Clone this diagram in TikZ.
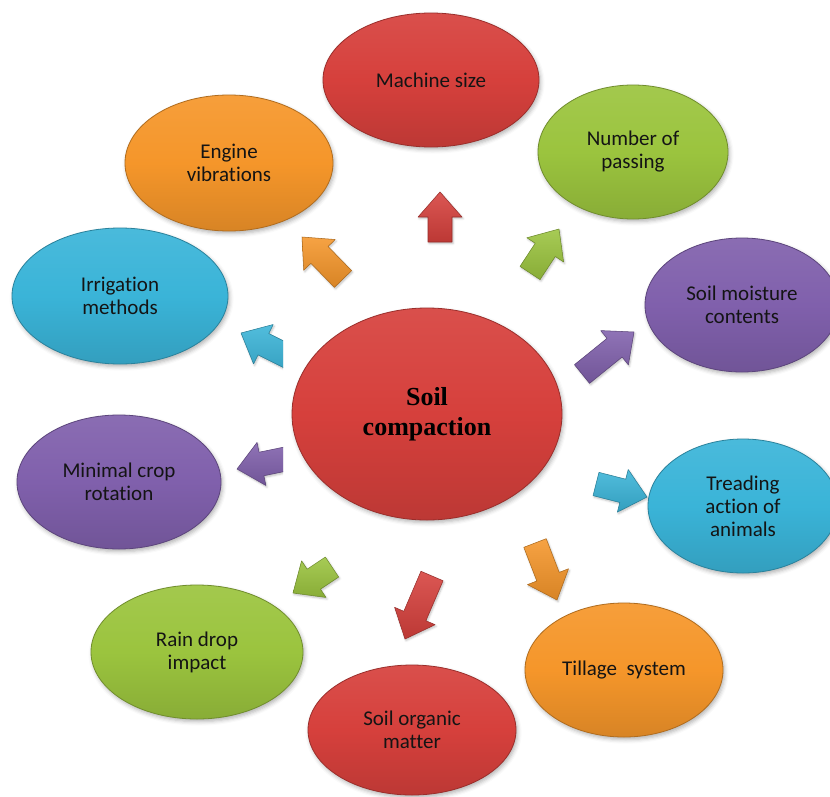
\documentclass[tikz,border=0pt]{standalone}
\usepackage{fontspec}
\newfontfamily\calib[Ligatures={NoCommon}]{Carlito}
\newfontfamily\tms{Liberation Serif}
\usetikzlibrary{shapes.geometric,calc,shadows.blur}
\definecolor{cred}{RGB}{214,64,60}
\definecolor{corange}{RGB}{245,150,42}
\definecolor{cgreen}{RGB}{155,196,62}
\definecolor{cpurple}{RGB}{128,96,172}
\definecolor{ccyan}{RGB}{58,180,216}
\tikzset{
  bubble/.style={ellipse, inner sep=0pt, align=center,
    font=\calib\fontsize{15.75pt}{17.25pt}\selectfont, text=black!92,
    draw=#1!72!black, line width=0.6pt,
    top color=#1!92!white, bottom color=#1!88!black, middle color=#1,
    blur shadow={shadow xshift=1.2pt, shadow yshift=-2pt, shadow blur radius=3pt, shadow opacity=30}},
  arrowfill/.style={draw=#1!70!black, line width=0.4pt, line join=round,
    top color=#1!88!white, bottom color=#1!88!black,
    blur shadow={shadow xshift=0.8pt, shadow yshift=-1.2pt, shadow blur radius=1.5pt, shadow opacity=25}},
}
\newcommand\blkarrow[3]{%
  \coordinate (ah) at ($(#2)!18.75pt!(#1)$);
  \path[arrowfill=#3] ($(#1)!9pt!90:(#2)$) -- ($(ah)!9pt!90:(#2)$) -- ($(ah)!16.5pt!90:(#2)$) -- (#2)
    -- ($(ah)!16.5pt!-90:(#2)$) -- ($(ah)!9pt!-90:(#2)$) -- ($(#1)!9pt!-90:(#2)$) -- cycle;
}
\begin{document}
\begin{tikzpicture}[x=0.75pt,y=-0.75pt]
\useasboundingbox (0,0) rectangle (830,796);
% arrow end points
\coordinate (a1t) at (440,242); \coordinate (a1h) at (440,192);
\coordinate (a2t) at (530,273); \coordinate (a2h) at (559,229);
\coordinate (a3t) at (582,374); \coordinate (a3h) at (634,332);
\coordinate (a4t) at (596,484); \coordinate (a4h) at (647,497);
\coordinate (a5t) at (535,543); \coordinate (a5h) at (557,600);
\coordinate (a6t) at (432,576); \coordinate (a6h) at (405,639);
\coordinate (a7t) at (332,567); \coordinate (a7h) at (293,593);
\coordinate (a8t) at (305,455); \coordinate (a8h) at (237,469);
\coordinate (a9t) at (305,365); \coordinate (a9h) at (241,333);
\coordinate (a10t) at (343,279); \coordinate (a10h) at (302,237);
% arrows
\blkarrow{a1t}{a1h}{cred}
\blkarrow{a2t}{a2h}{cgreen}
\blkarrow{a3t}{a3h}{cpurple}
\blkarrow{a4t}{a4h}{ccyan}
\blkarrow{a5t}{a5h}{corange}
\blkarrow{a6t}{a6h}{cred}
\blkarrow{a7t}{a7h}{cgreen}
\begin{scope}
\clip (0,0) rectangle (283,796);
\blkarrow{a8t}{a8h}{cpurple}
\blkarrow{a9t}{a9h}{ccyan}
\end{scope}
\blkarrow{a10t}{a10h}{corange}
% ellipses
\node[bubble=cred, minimum width=202.5pt, minimum height=159pt,
  font=\tms\bfseries\fontsize{19.5pt}{22.5pt}\selectfont, text=black] (center) at (427,414) {Soil\\compaction};
\node[bubble=cred, minimum width=162pt, minimum height=100.5pt] (machine) at (431,80) {Machine size};
\node[bubble=corange, minimum width=156pt, minimum height=102pt] (engine) at (229,163) {Engine\\vibrations};
\node[bubble=cgreen, minimum width=142.5pt, minimum height=100.5pt] (number) at (633,152) {Number of\\passing};
\node[bubble=cpurple, minimum width=145.5pt, minimum height=100.5pt] (moisture) at (742,305) {Soil moisture\\contents};
\node[bubble=ccyan, minimum width=162pt, minimum height=102pt] (irrigation) at (120,296) {Irrigation\\methods};
\node[bubble=cpurple, minimum width=153pt, minimum height=100.5pt] (minimal) at (119,482) {Minimal crop\\rotation};
\node[bubble=ccyan, minimum width=142.5pt, minimum height=100.5pt] (treading) at (743,506) {Treading\\action of\\animals};
\node[bubble=cgreen, minimum width=159pt, minimum height=100.5pt] (rain) at (197,652) {Rain drop\\impact};
\node[bubble=cred, minimum width=156pt, minimum height=97.5pt] (organic) at (412,730) {Soil organic\\matter};
\node[bubble=corange, minimum width=148.5pt, minimum height=100.5pt] (tillage) at (624,670) {Tillage\ \ system};
\end{tikzpicture}
\end{document}
